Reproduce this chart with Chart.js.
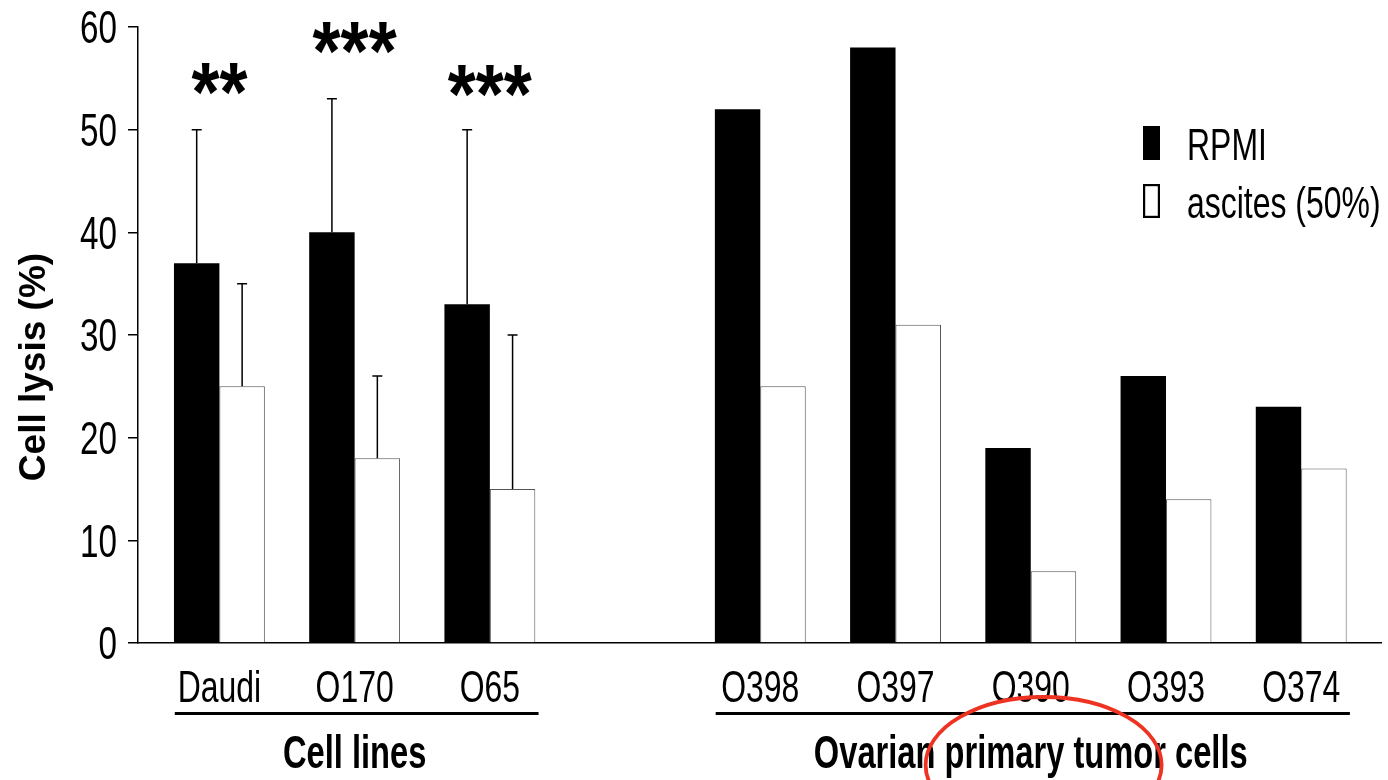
<!DOCTYPE html>
<html><head><meta charset="utf-8">
<script src="https://cdn.jsdelivr.net/npm/chart.js@4.4.0/dist/chart.umd.min.js"></script>
<style>html,body{margin:0;padding:0;background:#fff;} #wrap{width:1388px;height:780px;position:relative;}</style>
</head><body><div id="wrap"><canvas id="c" width="1388" height="780"></canvas></div>
<script>
// ---- data ----
const categories = ['Daudi', 'O170', 'O65', '', 'O398', 'O397', 'O390', 'O393', 'O374'];
const rpmi       = [37, 40, 33, null, 52, 58, 19, 26, 23];
const ascites    = [25, 18, 15, null, 25, 31, 7, 14, 17];
const rpmiErr    = [13, 13, 17, null, null, null, null, null, null];
const ascitesErr = [10, 8, 15, null, null, null, null, null, null];
const significance      = ['**', '***', '***', null, null, null, null, null, null];
const significanceLevel = [53.4, 57.4, 53.2, null, null, null, null, null, null];
const yTicks = [0, 10, 20, 30, 40, 50, 60];
const seriesNames = ['RPMI', 'ascites (50%)'];
const groupNames = ['Cell lines', 'Ovarian primary tumor cells'];
const groupFirst = [0, 4];
const groupLast  = [2, 8];
const yTitle = 'Cell lysis (%)';

// ---- styling ----
const WIDE = "'Liberation Sans',Arial,sans-serif";
const NARROW_X = 0.71;   // horizontal compression to mimic a narrow face
const toPts = arr => arr.map((v, i) => v == null ? null : {x: i, y: v}).filter(p => p);

function txt(ctx, s, x, y, size, bold, sx, align) {
  ctx.save();
  ctx.fillStyle = '#000';
  ctx.font = (bold ? 'bold ' : '') + size + 'px ' + WIDE;
  ctx.textAlign = align; ctx.textBaseline = 'alphabetic';
  ctx.translate(x, y); ctx.scale(sx, 1);
  ctx.fillText(s, 0, 0);
  ctx.restore();
}

const errorBars = {
  id: 'errorBars',
  afterDatasetsDraw(chart) {
    const ctx = chart.ctx, ys = chart.scales.y;
    chart.data.datasets.forEach((ds, di) => {
      const meta = chart.getDatasetMeta(di);
      meta.data.forEach((bar, k) => {
        const p = ds.data[k];
        const e = ds.errors[p.x];
        if (e == null) return;
        const top = ys.getPixelForValue(p.y + e);
        ctx.save();
        ctx.strokeStyle = '#000'; ctx.lineWidth = 1.5;
        ctx.beginPath();
        ctx.moveTo(bar.x, bar.y); ctx.lineTo(bar.x, top);
        ctx.moveTo(bar.x - 5, top); ctx.lineTo(bar.x + 5, top);
        ctx.stroke();
        ctx.restore();
      });
    });
  }
};

const annotations = {
  id: 'annotations',
  afterDraw(chart) {
    const ctx = chart.ctx, xs = chart.scales.x, ys = chart.scales.y, ca = chart.chartArea;

    // y tick labels (from the scale's ticks)
    ys.ticks.forEach((t, i) => {
      const y = ys.getPixelForTick(i);
      txt(ctx, String(t.value), ca.left - 21, y + 0.716 * 46 / 2, 46, false, 0.723, 'right');
    });
    // x category labels (from the scale's ticks)
    xs.ticks.forEach((t, i) => {
      const lab = categories[t.value];
      if (!lab) return;
      txt(ctx, lab, xs.getPixelForTick(i), ca.bottom + 59, 45, false, NARROW_X, 'center');
    });

    // significance stars
    ctx.save();
    ctx.fillStyle = '#000';
    ctx.font = "bold 80px " + WIDE;
    ctx.textAlign = 'center'; ctx.textBaseline = 'alphabetic';
    significance.forEach((s, i) => {
      if (!s) return;
      const m = ctx.measureText(s);
      const h = m.actualBoundingBoxAscent + m.actualBoundingBoxDescent;
      const sy = 31 / h;
      const bottom = ys.getPixelForValue(significanceLevel[i]);
      const base = bottom - m.actualBoundingBoxDescent * sy;
      ctx.save();
      ctx.translate(xs.getPixelForValue(i), base);
      ctx.scale(0.9, sy);
      ctx.fillText(s, 0, 0);
      ctx.restore();
    });
    ctx.restore();

    // y title
    ctx.save();
    ctx.fillStyle = '#000';
    ctx.font = "bold 37px " + WIDE;
    ctx.textAlign = 'center'; ctx.textBaseline = 'alphabetic';
    ctx.translate(45, (ca.top + ca.bottom) / 2 + 32);
    ctx.rotate(-Math.PI / 2);
    ctx.fillText(yTitle, 0, 0);
    ctx.restore();

    // group underlines + labels
    ctx.save();
    ctx.strokeStyle = '#000'; ctx.lineWidth = 3;
    groupNames.forEach((g, k) => {
      const x1 = xs.getPixelForValue(groupFirst[k] - 0.33);
      const x2 = xs.getPixelForValue(groupLast[k] + 0.36);
      ctx.beginPath(); ctx.moveTo(x1, ca.bottom + 70.5); ctx.lineTo(x2, ca.bottom + 70.5); ctx.stroke();
      txt(ctx, g, xs.getPixelForValue((groupFirst[k] + groupLast[k]) / 2), ca.bottom + 125, 46, true, NARROW_X, 'center');
    });
    ctx.restore();

    // legend
    ctx.save();
    const lx = ca.right - 238;
    const rows = [ca.top + 99, ca.top + 157];
    chart.data.datasets.forEach((ds, i) => {
      const ty = rows[i];
      ctx.fillStyle = ds.backgroundColor;
      ctx.fillRect(lx, ty, 17, 34);
      if (i === 1) { ctx.strokeStyle = '#000'; ctx.lineWidth = 2.2; ctx.strokeRect(lx + 1.1, ty + 1.1, 14.8, 31.8); }
      txt(ctx, ds.label, lx + 44, rows[i] + 34, 45, false, NARROW_X, 'left');
    });
    ctx.restore();

    // red ellipse highlight
    ctx.save();
    ctx.strokeStyle = '#ee3322'; ctx.lineWidth = 3.8;
    ctx.beginPath();
    ctx.ellipse(xs.getPixelForValue(6.095), ca.bottom + 122, 118, 68, 0, 0, Math.PI * 2);
    ctx.stroke();
    ctx.restore();
  }
};

new Chart(document.getElementById('c'), {
  type: 'bar',
  data: {
    datasets: [
      {label: seriesNames[0], data: toPts(rpmi), backgroundColor: '#000', borderWidth: 0, errors: rpmiErr},
      {label: seriesNames[1], data: toPts(ascites), backgroundColor: '#fff', borderColor: '#555', borderWidth: 1, errors: ascitesErr}
    ]
  },
  options: {
    responsive: false, animation: false,
    layout: {padding: {top: 27, right: 7, left: 0, bottom: 0}, autoPadding: false},
    datasets: {bar: {categoryPercentage: 0.672, barPercentage: 1, grouped: true}},
    plugins: {legend: {display: false}, tooltip: {enabled: false}},
    scales: {
      x: {
        type: 'linear', min: -0.602, max: 8.59, offset: false,
        afterBuildTicks: s => { s.ticks = categories.map((c, i) => ({value: i})); },
        afterFit: s => { s.height = 137; },
        ticks: {display: false, callback: v => categories[v] ?? ''},
        grid: {display: false, drawTicks: false},
        border: {display: true, color: '#000', width: 1.5}
      },
      y: {
        min: 0, max: 60,
        afterBuildTicks: s => { s.ticks = yTicks.map(v => ({value: v})); },
        afterFit: s => { s.width = 138; },
        ticks: {display: false},
        grid: {display: true, drawOnChartArea: false, drawTicks: true, tickLength: 10, color: '#000', lineWidth: 1.5},
        border: {display: true, color: '#000', width: 1.5}
      }
    }
  },
  plugins: [errorBars, annotations]
});
</script>
</body></html>
